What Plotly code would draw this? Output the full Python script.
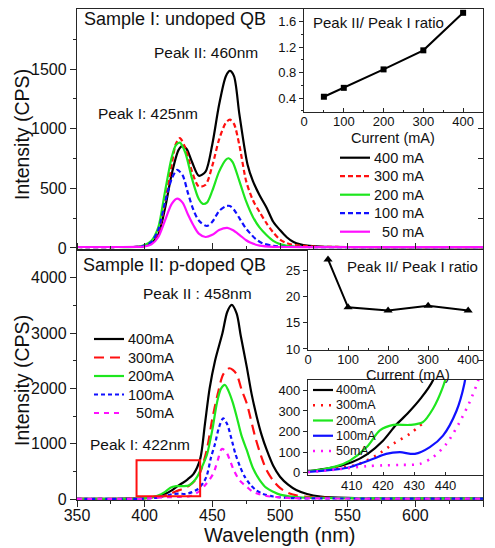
import plotly.graph_objects as go

W, H = 495, 548


def px(x):
    return x / W


def py(y):
    return 1 - y / H


FONT = "Liberation Sans, Arial, sans-serif"
AX = "#262626"
BLACK, RED, GREEN, BLUE, MAGENTA = "#000000", "#ff1010", "#1ee61e", "#1010ff", "#ff10ff"

# ---------------- Sample I: undoped QB (top panel) ----------------
WL_T_400 = [350, 380, 395, 400, 405, 410, 415, 420, 425, 428, 431, 435, 440, 445, 450, 455, 460, 463, 466,
            470, 476, 480, 485, 490, 495, 500, 505, 510, 515, 520, 530, 550, 600, 650]
I_T_400 = [8, 8, 10, 18, 40, 110, 330, 620, 820, 855, 830, 720, 605, 640, 870, 1200, 1440, 1484, 1440,
           1120, 700, 560, 440, 340, 220, 150, 90, 50, 30, 20, 12, 8, 7, 7]

WL_T_300 = [350, 380, 395, 400, 405, 410, 415, 420, 423, 426, 430, 435, 440, 445, 450, 455, 460, 463, 466,
            470, 475, 480, 485, 490, 495, 500, 505, 510, 520, 530, 550, 600, 650]
I_T_300 = [8, 8, 10, 20, 45, 130, 380, 700, 870, 920, 840, 640, 515, 530, 690, 910, 1050, 1075, 1040,
           860, 560, 400, 300, 208, 130, 70, 40, 25, 15, 10, 8, 7, 7]

WL_T_200 = [350, 380, 395, 400, 405, 410, 415, 420, 423, 426, 430, 435, 440, 443, 446, 450, 455, 460, 462,
            465, 470, 475, 480, 485, 490, 495, 500, 505, 510, 520, 550, 650]
I_T_200 = [8, 8, 10, 25, 60, 170, 470, 760, 860, 883, 800, 580, 410, 370, 380, 480, 640, 740, 752,
           720, 560, 390, 260, 170, 109, 60, 32, 18, 12, 8, 7, 7]

WL_T_100 = [350, 380, 395, 400, 405, 410, 415, 420, 424, 428, 432, 436, 440, 446, 450, 455, 460, 463, 466,
            470, 475, 478, 482, 487, 495, 505, 520, 650]
I_T_100 = [8, 8, 10, 20, 50, 150, 380, 580, 654, 610, 460, 320, 230, 184, 220, 310, 350, 352, 320,
           250, 160, 123, 75, 40, 18, 10, 8, 7]

WL_T_50 = [350, 380, 395, 400, 405, 410, 415, 420, 424, 428, 432, 436, 440, 445, 450, 455, 461, 465, 470,
           475, 478, 485, 495, 505, 520, 650]
I_T_50 = [8, 8, 9, 12, 30, 90, 230, 370, 413, 380, 280, 190, 120, 92, 110, 150, 168, 150, 110,
          65, 45, 20, 10, 8, 7, 7]

# ---------------- Sample II: p-doped QB (bottom panel) ----------------
WL_B_400 = [350, 380, 396, 400, 405, 410, 415, 420, 424, 428, 432, 436, 441, 444.5, 448, 452, 457.5, 461,
            464.3, 468, 471, 475.4, 479, 482.8, 486.5, 490.2, 495, 500, 506, 512, 520, 530, 550, 600, 650]
I_B_400 = [5, 5, 8, 15, 28, 50, 90, 155, 229, 290, 360, 450, 720, 1350, 2000, 2500, 3000, 3380,
           3508, 3350, 2950, 2393, 1900, 1488, 1150, 886, 600, 403, 260, 163, 90, 45, 20, 12, 10]

WL_B_300 = [350, 380, 396, 405, 412, 418, 423.3, 428.6, 432.7, 437, 441, 446, 450, 454, 458, 462.6, 467.5,
            471.7, 475.4, 481.6, 486, 490, 495, 500, 506, 512, 520, 530, 550, 650]
I_B_300 = [5, 5, 8, 20, 40, 85, 140, 189, 240, 330, 480, 900, 1450, 1900, 2250, 2363, 2272,
           1971, 1730, 1127, 780, 524, 330, 200, 110, 65, 40, 25, 15, 10]

WL_B_200 = [350, 380, 396, 405, 409.4, 414.8, 419, 423.3, 428.6, 432.7, 436, 439, 442, 446, 450, 453.5,
            456.5, 459.4, 462, 465, 468, 471.5, 475.4, 480, 485, 490, 495, 500, 510, 520, 550, 650]
I_B_200 = [5, 5, 6, 30, 58, 124, 205, 232, 232, 245, 311, 410, 560, 800, 1250, 1750,
           2000, 2061, 1950, 1750, 1488, 1150, 886, 560, 343, 200, 132, 80, 40, 25, 15, 10]

WL_B_100 = [350, 380, 396, 405, 409.4, 413, 416.9, 421, 425.4, 430.2, 435, 439.2, 443.5, 446, 449, 452,
            455, 458, 461, 464, 467, 470.5, 474, 478, 482, 487, 495, 505, 520, 650]
I_B_100 = [3, 3, 3, 15, 26, 45, 67, 91, 99, 91, 124, 180, 300, 430, 750, 1000,
           1300, 1459, 1350, 1100, 820, 584, 400, 260, 165, 95, 45, 20, 12, 8]

WL_B_50 = [350, 380, 396, 405, 414.8, 420, 425.4, 431.8, 436, 440.3, 444.5, 447.7, 450.9, 454, 457,
           460, 463, 465.5, 470, 475.4, 480, 485, 490, 500, 510, 530, 650]
I_B_50 = [2, 2, 2, 15, 31, 35, 37, 42, 75, 140, 245, 343, 470, 700, 904,
          860, 700, 540, 340, 222, 130, 85, 55, 28, 15, 10, 8]

# ---------------- Insets: Peak II / Peak I ratio ----------------
CURRENT = [50, 100, 200, 300, 400]
RATIO_UNDOPED = [0.42, 0.56, 0.85, 1.15, 1.74]
RATIO_PDOPED = [27.2, 18.0, 17.4, 18.3, 17.4]

ZOOM_BOX = dict(x0=394, x1=441, y0=50, y1=700)
INSET_RED_MAX_WL = 433

fig = go.Figure()

top = [("400 mA", WL_T_400, I_T_400, BLACK, "solid"),
       ("300 mA", WL_T_300, I_T_300, RED, "5px,3px"),
       ("200 mA", WL_T_200, I_T_200, GREEN, "solid"),
       ("100 mA", WL_T_100, I_T_100, BLUE, "5px,3px"),
       ("\u200750 mA", WL_T_50, I_T_50, MAGENTA, "solid")]
for name, x, y, c, d in top:
    fig.add_trace(go.Scatter(x=x, y=y, mode="lines", name=name, showlegend=False,
                             line=dict(color=c, width=2.2, dash=d, shape="spline", smoothing=0.8),
                             xaxis="x", yaxis="y", hoverinfo="skip"))

bottom = [("400mA", WL_B_400, I_B_400, BLACK, "solid"),
          ("300mA", WL_B_300, I_B_300, RED, "10px,6px"),
          ("200mA", WL_B_200, I_B_200, GREEN, "solid"),
          ("100mA", WL_B_100, I_B_100, BLUE, "4px,3px"),
          ("\u200750mA", WL_B_50, I_B_50, MAGENTA, "5px,5px")]
for name, x, y, c, d in bottom:
    fig.add_trace(go.Scatter(x=x, y=y, mode="lines", name=name, showlegend=False,
                             line=dict(color=c, width=2.2, dash=d, shape="spline", smoothing=0.8),
                             xaxis="x2", yaxis="y2", hoverinfo="skip"))

# zoomed inset of the bottom panel (same spectra, narrower axes)
inset_styles = [("400mA", BLACK, "solid"), ("300mA", RED, "2px,6px"), ("200mA", GREEN, "solid"),
                ("100mA", BLUE, "solid"), ("50mA", MAGENTA, "2px,6px")]
for (name, c, d), (_, x, y, _, _) in zip(inset_styles, bottom):
    if c == RED:
        pairs = [(a, b) for a, b in zip(x, y) if 405 <= a <= INSET_RED_MAX_WL]
        x, y = [p[0] for p in pairs], [p[1] for p in pairs]
    fig.add_trace(go.Scatter(x=x, y=y, mode="lines", name=name, showlegend=False,
                             line=dict(color=c, width=2.2 if d == "solid" else 2.6, dash=d,
                                       shape="spline", smoothing=0.8),
                             xaxis="x5", yaxis="y5", hoverinfo="skip"))

fig.add_trace(go.Scatter(x=CURRENT, y=RATIO_UNDOPED, mode="lines+markers", showlegend=False,
                         line=dict(color=BLACK, width=2), marker=dict(symbol="square", size=6, color=BLACK),
                         xaxis="x3", yaxis="y3", hoverinfo="skip"))
fig.add_trace(go.Scatter(x=CURRENT, y=RATIO_PDOPED, mode="lines+markers", showlegend=False,
                         line=dict(color=BLACK, width=2), marker=dict(symbol="triangle-up", size=8, color=BLACK),
                         xaxis="x4", yaxis="y4", hoverinfo="skip"))
# carriers for the inward right-side ticks
fig.add_trace(go.Scatter(x=[], y=[], xaxis="x", yaxis="y6", showlegend=False, hoverinfo="skip"))
fig.add_trace(go.Scatter(x=[], y=[], xaxis="x2", yaxis="y7", showlegend=False, hoverinfo="skip"))

base = dict(showline=True, linecolor=AX, linewidth=1.3, showgrid=False, zeroline=False, automargin=False,
            tickcolor=AX, tickfont=dict(family=FONT, size=16, color="#111"))
small = dict(base, tickfont=dict(family=FONT, size=13, color="#111"))

X_MAIN = [px(77), px(483)]

fig.update_layout(
    template="none",
    width=W, height=H, margin=dict(l=0, r=0, t=0, b=0, pad=0, autoexpand=False),
    paper_bgcolor="white", plot_bgcolor="white",
    font=dict(family=FONT, color="#111"),
    showlegend=False,
    xaxis=dict(base, domain=X_MAIN, anchor="y", range=[350, 650], showticklabels=False,
               mirror=True, ticks=""),
    yaxis=dict(base, domain=[py(250), py(9)], anchor="x", range=[-17, 2003], mirror=True,
               tickvals=[0, 500, 1000, 1500], ticks="outside", ticklen=6,
               minor=dict(tickvals=[250, 750, 1250, 1750], ticks="outside", ticklen=3, tickcolor=AX)),
    yaxis6=dict(overlaying="y", side="right", anchor="x", range=[-17, 2003], showline=False, automargin=False,
                showgrid=False, zeroline=False, showticklabels=False, ticks="inside", ticklen=5,
                tickcolor=AX, tickvals=[250, 500, 750, 1000, 1250, 1500, 1750]),
    xaxis2=dict(base, domain=X_MAIN, anchor="y2", range=[350, 650], mirror="ticks",
                tickvals=[350, 400, 450, 500, 550, 600, 650], ticks="outside", ticklen=6,
                ticklabelstandoff=-5,
                minor=dict(dtick=25, tick0=350, ticks="outside", ticklen=3, tickcolor=AX)),
    yaxis2=dict(base, domain=[py(500), py(250)], anchor="x2", range=[-18, 4500], mirror=True,
                tickvals=[0, 1000, 2000, 3000, 4000], ticks="outside", ticklen=6,
                minor=dict(tickvals=[500, 1500, 2500, 3500], ticks="outside", ticklen=3, tickcolor=AX)),
    yaxis7=dict(overlaying="y2", side="right", anchor="x2", range=[-18, 4500], showline=False, automargin=False,
                showgrid=False, zeroline=False, showticklabels=False, ticks="inside", ticklen=5,
                tickcolor=AX, tickvals=[500, 1000, 1500, 2000, 2500, 3000, 3500, 4000]),
    xaxis3=dict(small, domain=[px(304), px(483)], anchor="y3", range=[0, 450], mirror=True,
                tickvals=[0, 100, 200, 300, 400], ticks="inside", ticklen=4, ticklabelstandoff=-3,
                minor=dict(tickvals=[50, 150, 250, 350], ticks="inside", ticklen=2, tickcolor=AX)),
    yaxis3=dict(small, domain=[py(112), py(9)], anchor="x3", range=[0.18, 1.8], mirror=True,
                tickvals=[0.4, 0.8, 1.2, 1.6], tickformat=".1f", ticks="outside", ticklen=4,
                minor=dict(tickvals=[0.2, 0.6, 1.0, 1.4], ticks="outside", ticklen=2, tickcolor=AX)),
    xaxis4=dict(small, domain=[px(308), px(483)], anchor="y4", range=[0, 437], mirror=True,
                tickvals=[0, 100, 200, 300, 400], ticks="inside", ticklen=4, ticklabelstandoff=-3,
                minor=dict(tickvals=[50, 150, 250, 350], ticks="inside", ticklen=2, tickcolor=AX)),
    yaxis4=dict(small, domain=[py(350), py(250)], anchor="x4", range=[9.8, 29], mirror=True,
                tickvals=[10, 15, 20, 25], ticks="outside", ticklen=4),
    xaxis5=dict(small, domain=[px(308), px(483)], anchor="y5", range=[396, 452], mirror=True,
                tickvals=[410, 420, 430, 440], ticks="inside", ticklen=3, ticklabelstandoff=-2),
    yaxis5=dict(small, domain=[py(475), py(380)], anchor="x5", range=[-12, 451], mirror=True,
                tickvals=[0, 100, 200, 300, 400], ticks="outside", ticklen=4),
)

fig.add_shape(type="rect", xref="x2", yref="y2", line=dict(color=RED, width=2), **ZOOM_BOX)


def note(text, x, y, size, xanchor="left", angle=0):
    fig.add_annotation(text=text, x=px(x), y=py(y), xref="paper", yref="paper", showarrow=False,
                       xanchor=xanchor, yanchor="middle", textangle=angle,
                       font=dict(family=FONT, size=size, color="#111"))


def key(entries, xs, ys, size, widths):
    for (name, c, d), ky, w in zip(entries, ys, widths):
        fig.add_shape(type="line", xref="paper", yref="paper", x0=px(xs[0]), x1=px(xs[1]),
                      y0=py(ky), y1=py(ky), line=dict(color=c, width=w, dash=d))
        note(name, xs[2], ky, size)


key([(n, c, d) for n, _, _, c, d in top], (340, 370, 372), [157.7, 176.2, 194.7, 213.2, 231.7], 14.5,
    [2.2] * 5)
key([(n, c, d) for n, _, _, c, d in bottom], (94, 124, 126), [339, 357.5, 376, 394.5, 413], 14.5,
    [2.2] * 5)
key(inset_styles, (313, 333, 334), [390, 405.25, 420.5, 435.75, 451], 12.5,
    [2.2, 2.6, 2.2, 2.2, 2.6])

note("Sample I: undoped QB", 82, 19, 18)
note("Peak II: 460nm", 152, 53, 15.5)
note("Peak I: 425nm", 96, 113, 15.5)
note("Peak II/ Peak I ratio", 311, 22, 15)
note("Current (mA)", 393, 138, 14.5, "center")
note("Sample II: p-doped QB", 81, 265, 18)
note("Peak II : 458nm", 141, 293, 15.5)
note("Peak I: 422nm", 88, 444, 15.5)
note("Peak II/ Peak I ratio", 345, 266, 15)
note("Current (mA)", 408, 375, 14.5, "center")
note("Wavelength (nm)", 280, 535, 20, "center")
note("Intensity (CPS)", 22, 135, 19.5, "center", -90)
note("Intensity (CPS)", 22, 381, 19.5, "center", -90)

fig.write_html("out.html", config={"displayModeBar": False},
               post_script="document.body.style.margin='0';document.body.style.padding='0';"
                           "document.documentElement.style.overflow='hidden';")
